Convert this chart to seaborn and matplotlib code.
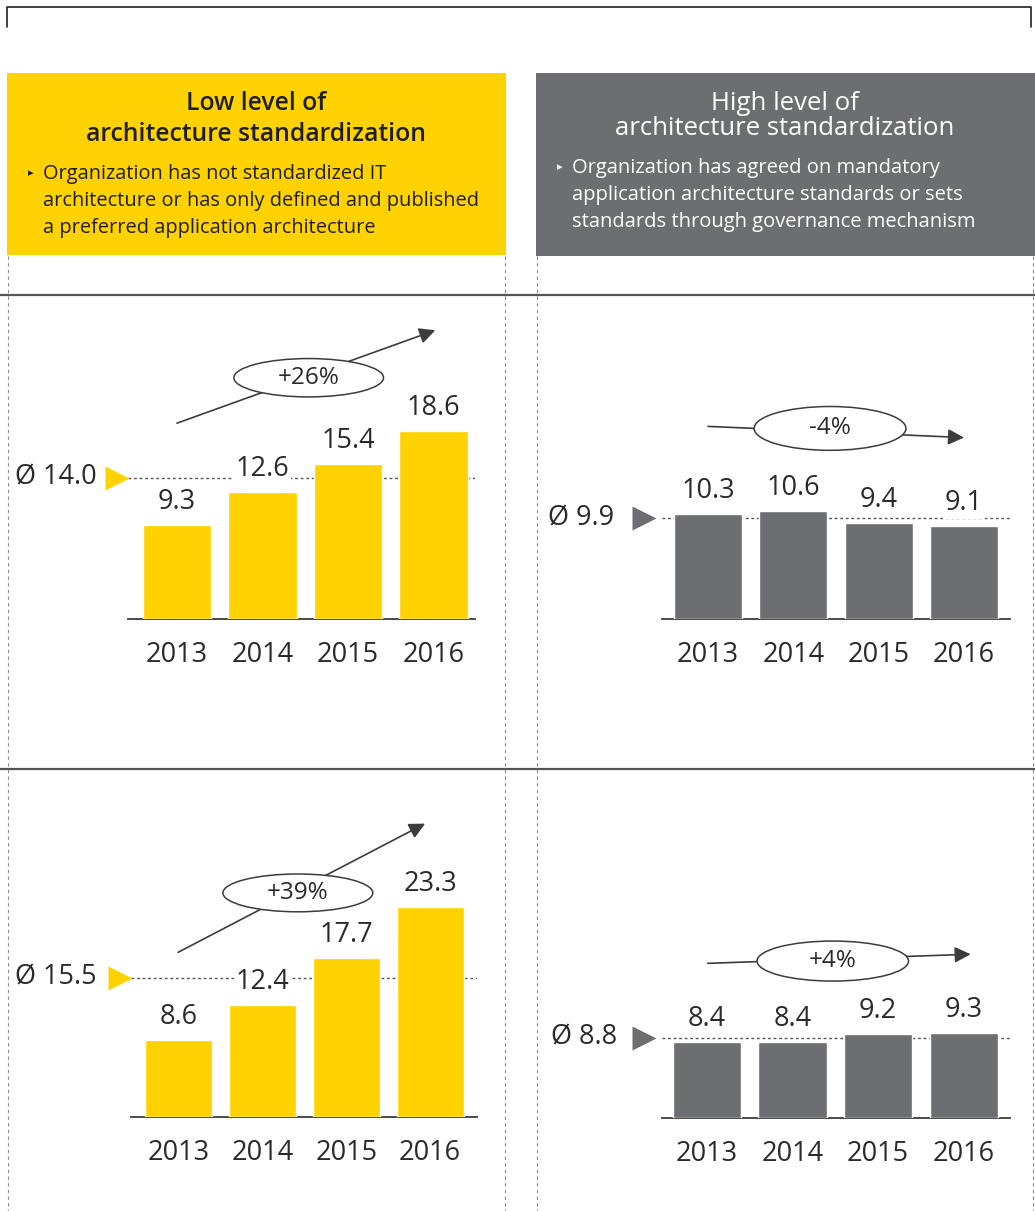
import matplotlib
matplotlib.use("Agg")
import matplotlib.pyplot as plt
from matplotlib.patches import Ellipse, Rectangle
from matplotlib.lines import Line2D
import seaborn as sns
import pandas as pd

# ---- data -------------------------------------------------------------
years = ["2013", "2014", "2015", "2016"]
low_std_top = [9.3, 12.6, 15.4, 18.6]
high_std_top = [10.3, 10.6, 9.4, 9.1]
low_std_bottom = [8.6, 12.4, 17.7, 23.3]
high_std_bottom = [8.4, 8.4, 9.2, 9.3]
averages = [14.0, 9.9, 15.5, 8.8]
changes = ["+26%", "-4%", "+39%", "+4%"]

low_title = "Low level of\narchitecture standardization"
low_body = ("Organization has not standardized IT\n"
            "architecture or has only defined and published\n"
            "a preferred application architecture")
high_title = "High level of\narchitecture standardization"
high_body = ("Organization has agreed on mandatory\n"
             "application architecture standards or sets\n"
             "standards through governance mechanism")

# ---- style ------------------------------------------------------------
YELLOW = "#FFD200"
GREY = "#6D6E71"
DARK = "#2A2A2A"
LINE = "#3C3C3C"
NUM_SIZE = 19.5

sns.set_theme(style="white")
plt.rcParams["font.family"] = ["Open Sans", "DejaVu Sans"]

W, H = 1035, 1211
fig = plt.figure(figsize=(W / 100, H / 100), dpi=100)


def fx(x):
    return x / W


def fy(y):
    return 1 - y / H


def fig_line(xs, ys, **kw):
    fig.add_artist(Line2D([fx(x) for x in xs], [fy(y) for y in ys],
                          transform=fig.transFigure, **kw))


def fig_box(x0, y0, x1, y1, color):
    fig.add_artist(Rectangle((fx(x0), fy(y1)), (x1 - x0) / W, (y1 - y0) / H,
                             transform=fig.transFigure, fc=color, ec="none",
                             zorder=0.5))


# ---- frame, headers and grid lines ------------------------------------
fig_line([7, 7, 1031, 1031], [27, 7, 7, 27], color="#222222", lw=1.2)

fig_box(7, 73, 506, 255, YELLOW)
fig_box(536, 73, 1035, 256, GREY)

fig.text(fx(256), fy(119), low_title, ha="center", va="center",
         fontsize=17.8, fontweight="semibold", color="#1E1E1E",
         linespacing=1.32)
fig.text(fx(31), fy(173), "\u25B8", ha="center", va="center", fontsize=8,
         color="#1E1E1E", family="DejaVu Sans")
fig.text(fx(43), fy(201), low_body, ha="left", va="center", fontsize=14.4,
         color="#1E1E1E", linespacing=1.5)

fig.text(fx(785), fy(116), high_title, ha="center", va="center",
         fontsize=18.5, color="white", linespacing=1.03)
fig.text(fx(560), fy(167), "\u25B8", ha="center", va="center", fontsize=8,
         color="white", family="DejaVu Sans")
fig.text(fx(572), fy(195), high_body, ha="left", va="center", fontsize=14.5,
         color="white", linespacing=1.5)

for y in (295, 769):
    fig_line([0, 1035], [y, y], color="#555555", lw=1.6)

for x in (8, 505, 537, 1033):
    fig_line([x, x], [256, 1211], color="#8A8A8A", lw=0.8,
             ls=(0, (3, 3)))

# ---- bar panels -------------------------------------------------------
panels = [
    dict(vals=low_std_top, avg=averages[0], change=changes[0], color=YELLOW,
         rect=(128, 300, 475, 619), xlim=(-0.573, 3.485), ytop=31.6,
         arrow=((0.0, 19.4), (3.02, 28.6)), ell=(1.54, 23.9, 1.75, 3.8),
         tri_x=-0.032, lab_x=-0.089),
    dict(vals=high_std_top, avg=averages[1], change=changes[1], color=GREY,
         rect=(662, 300, 1010, 619), xlim=(-0.54, 3.54), ytop=31.3,
         arrow=((0.0, 18.9), (3.0, 17.8)), ell=(1.43, 18.7, 1.78, 4.3),
         tri_x=-0.052, lab_x=-0.138),
    dict(vals=low_std_bottom, avg=averages[2], change=changes[2], color=YELLOW,
         rect=(131, 775, 477, 1117), xlim=(-0.573, 3.56), ytop=38.0,
         arrow=((-0.01, 18.3), (2.94, 32.6)), ell=(1.42, 24.9, 1.79, 4.2),
         tri_x=-0.032, lab_x=-0.098),
    dict(vals=high_std_bottom, avg=averages[3], change=changes[3], color=GREY,
         rect=(662, 775, 1010, 1118), xlim=(-0.525, 3.54), ytop=37.7,
         arrow=((0.01, 17.0), (3.08, 18.0)), ell=(1.47, 17.25, 1.77, 4.4),
         tri_x=-0.052, lab_x=-0.129),
]

for p in panels:
    x0, y0, x1, y1 = p["rect"]
    ax = fig.add_axes([fx(x0), fy(y1), (x1 - x0) / W, (y1 - y0) / H])
    ax.patch.set_alpha(0)

    df = pd.DataFrame({"year": years, "value": p["vals"]})
    sns.barplot(data=df, x="year", y="value", color=p["color"],
                saturation=1, width=0.8, ax=ax, zorder=3)

    ax.set_xlim(*p["xlim"])
    ax.set_ylim(0, p["ytop"])
    ax.set_xlabel("")
    ax.set_ylabel("")
    ax.set_yticks([])
    for side in ("top", "left", "right"):
        ax.spines[side].set_visible(False)
    ax.spines["bottom"].set_color(LINE)
    ax.spines["bottom"].set_linewidth(1.3)
    ax.tick_params(axis="x", length=0, pad=16, labelsize=NUM_SIZE,
                   labelcolor=DARK)

    # value labels
    for i, v in enumerate(p["vals"]):
        ax.annotate(f"{v:.1f}", xy=(i, v), xytext=(0, 16),
                    textcoords="offset pixels", ha="center", va="baseline",
                    fontsize=NUM_SIZE, color=DARK, zorder=5,
                    bbox=dict(fc="white", ec="none", pad=1.5))

    # average line with marker and label
    ax.axhline(p["avg"], color="#555555", lw=1.0, ls=(0, (2, 2)), zorder=1)
    ytr = ax.get_yaxis_transform()
    ax.plot([p["tri_x"]], [p["avg"]], marker=">", ms=17, color=p["color"],
            mec="none", transform=ytr, clip_on=False, zorder=4)
    ax.text(p["lab_x"], p["avg"], f"\u00D8 {p['avg']:.1f}", transform=ytr,
            ha="right", va="center", fontsize=NUM_SIZE, color=DARK)

    # trend arrow with percentage bubble
    (ax0, ay0), (ax1, ay1) = p["arrow"]
    ax.annotate("", xy=(ax1, ay1), xytext=(ax0, ay0),
                arrowprops=dict(arrowstyle="-|>", color=LINE, lw=1.2,
                                mutation_scale=24, shrinkA=0, shrinkB=0),
                annotation_clip=False, zorder=4)
    ex, ey, ew, eh = p["ell"]
    ax.add_patch(Ellipse((ex, ey), ew, eh, fc="white", ec=LINE, lw=1.1,
                         zorder=5, clip_on=False))
    ax.text(ex, ey, p["change"], ha="center", va="center", fontsize=17.5,
            color=DARK, zorder=6)

fig.savefig("out.png", dpi=100)
